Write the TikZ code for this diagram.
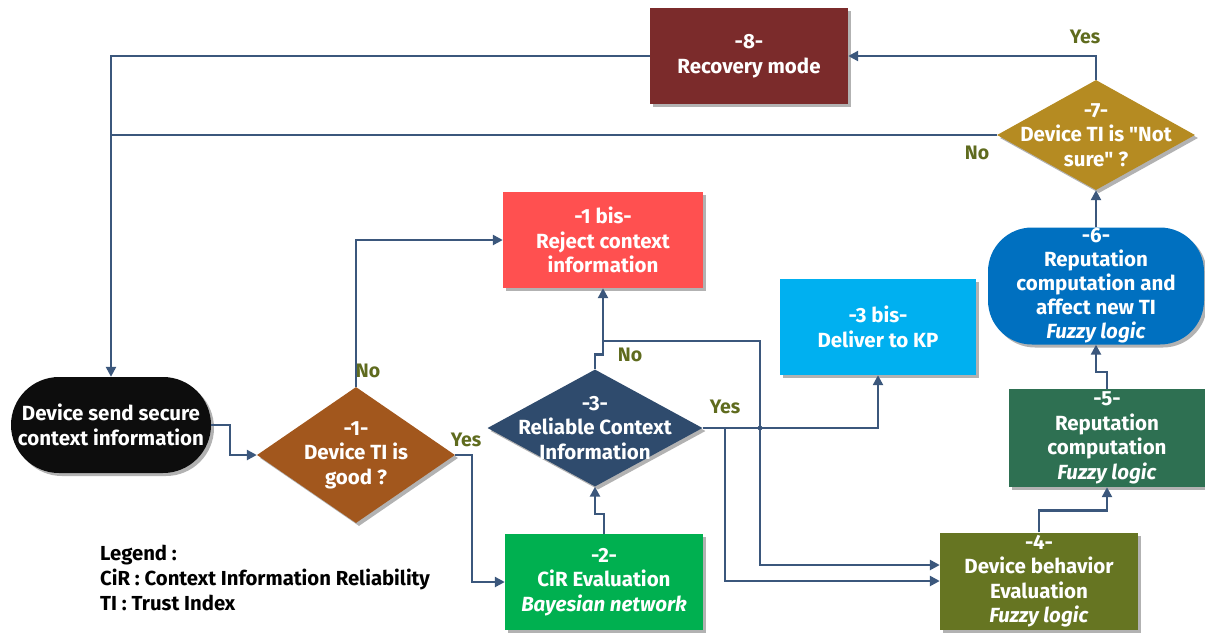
\documentclass[tikz,border=0pt]{standalone}
\usepackage{fontspec}
\setmainfont{Fira Sans}
\usetikzlibrary{arrows.meta}
\usetikzlibrary{calc}
\usetikzlibrary{shapes.geometric}
\usetikzlibrary{shadows}

\definecolor{linec}{RGB}{59,87,124}
\definecolor{answerc}{RGB}{95,107,30}
\definecolor{recovc}{RGB}{123,43,43}
\definecolor{notsurec}{RGB}{181,139,34}
\definecolor{rejectc}{RGB}{255,80,80}
\definecolor{goodc}{RGB}{162,87,29}
\definecolor{reliablec}{RGB}{47,75,109}
\definecolor{circ}{RGB}{0,176,80}
\definecolor{deliverc}{RGB}{0,176,240}
\definecolor{behavc}{RGB}{102,117,34}
\definecolor{reputc}{RGB}{46,112,82}
\definecolor{affectc}{RGB}{0,112,192}

\tikzset{
    boxfont/.style={font=\bfseries\fontsize{20.5}{24.5}\selectfont, text=white},
    shade box/.style={drop shadow={shadow xshift=3pt, shadow yshift=-3pt, opacity=.3, fill=black}},
    stepbox/.style={boxfont, shade box, fill=#1, inner sep=0pt, align=center,
        minimum width=198pt, minimum height=96pt},
    roundbox/.style={stepbox=#1, rounded corners=46pt},
    flow/.style={draw=linec, line width=2.4pt, -{Triangle[length=10pt, width=10pt]}},
    plain/.style={draw=linec, line width=2.4pt},
    answer/.style={font=\bfseries\fontsize{19.5}{22}\selectfont, text=answerc, inner sep=1pt},
}

\begin{document}
\begin{tikzpicture}[x=1pt, y=-1pt]

    \useasboundingbox (0,0) rectangle (1205,633);

    \node[stepbox=recovc] (recov) at (749,56) {-8-\\Recovery mode};
    \node[shape=diamond, fill=notsurec, shade box, minimum width=198pt, minimum height=110pt,
        label={[boxfont, align=center]center:-7-\\Device TI is \textquotedbl Not\\sure\textquotedbl{} ?}]
        (notsure) at (1096,135) {};
    \node[roundbox=black!95, minimum width=200pt, minimum height=96pt, rounded corners=48pt]
        (send) at (111,425) {Device send secure\\context information};
    \node[shape=diamond, fill=goodc, shade box, minimum width=198pt, minimum height=136pt,
        label={[boxfont, align=center]center:-1-\\Device TI is\\good ?}]
        (good) at (356,455) {};
    \node[stepbox=rejectc, minimum width=200pt] (reject) at (603,240)
        {-1 bis-\\Reject context\\information};
    \node[stepbox=circ] (cir) at (604,582) {-2-\\CiR Evaluation\\\textit{Bayesian network}};
    \node[shape=diamond, fill=reliablec, shade box, minimum width=215pt, minimum height=117pt,
        label={[boxfont, align=center]center:-3-\\Reliable Context\\Information}]
        (reliable) at (595,428) {};
    \node[stepbox=deliverc, minimum width=196pt] (deliver) at (878,327) {-3 bis-\\Deliver to KP};
    \node[stepbox=behavc, minimum height=97pt] (behav) at (1039,581)
        {-4-\\Device behavior\\Evaluation\\\textit{Fuzzy logic}};
    \node[stepbox=reputc, minimum width=196pt, minimum height=98pt] (reput) at (1107,438)
        {-5-\\Reputation\\computation\\\textit{Fuzzy logic}};
    \node[roundbox=affectc, minimum width=216pt, minimum height=117pt, rounded corners=44pt,
        font=\bfseries\fontsize{20.5}{24}\selectfont]
        (affect) at (1096,286)
        {-6-\\Reputation\\computation and\\affect new TI\\\textit{Fuzzy logic}};

    \node[anchor=north west, align=left, inner sep=0pt, font=\bfseries\fontsize{20.3}{25}\selectfont]
        (legend) at (100,545)
        {Legend :\\CiR : Context Information Reliability\\TI : Trust Index};

    % connectors
    \draw[flow] (notsure.north) |- (recov.east);
    \draw[flow] (recov.west) -| (send.north);
    \draw[plain] (notsure.west) -- (notsure.west -| send.north);
    \draw[flow] (send.east) -- ++(19,0) |- (good.west);
    \draw[flow] (good.north) |- (reject.west);
    \draw[flow] (good.east) -- ++(17,0) |- (cir.west);
    \draw[flow] (cir.north) -- ++(0,-20) -| (reliable.south);
    \draw[flow] (reliable.north) -- ++(0,-15) -| (reject.south);
    \coordinate (nojoin) at ($(reject.south)+(0,53)$);
    \draw[flow] (nojoin) -- ++(157,0) |- ([yshift=16pt]behav.west);
    \draw[flow] (reliable.east) -| (deliver.south);
    \draw[flow] (reliable.east) -- ++(22,0) |- (behav.west);
    \coordinate (cross) at (nojoin -| 760,0);
    \fill[linec] (cross |- reliable.east) circle [radius=2.4pt];
    \draw[flow] (behav.north) -- ++(0,-22) -| (reput.south);
    \draw[flow] (reput.north) -- ++(0,-17) -| (affect.south);
    \draw[flow] (affect.north) -- (notsure.south);

    \foreach \txt/\pos [count=\i] in {Yes/{1085,37}, No/{977,153}, No/{368,371},
                                      Yes/{466,440}, No/{630,355}, Yes/{725,407}}
        \node[answer] (ans\i) at (\pos) {\txt};

\end{tikzpicture}
\end{document}
